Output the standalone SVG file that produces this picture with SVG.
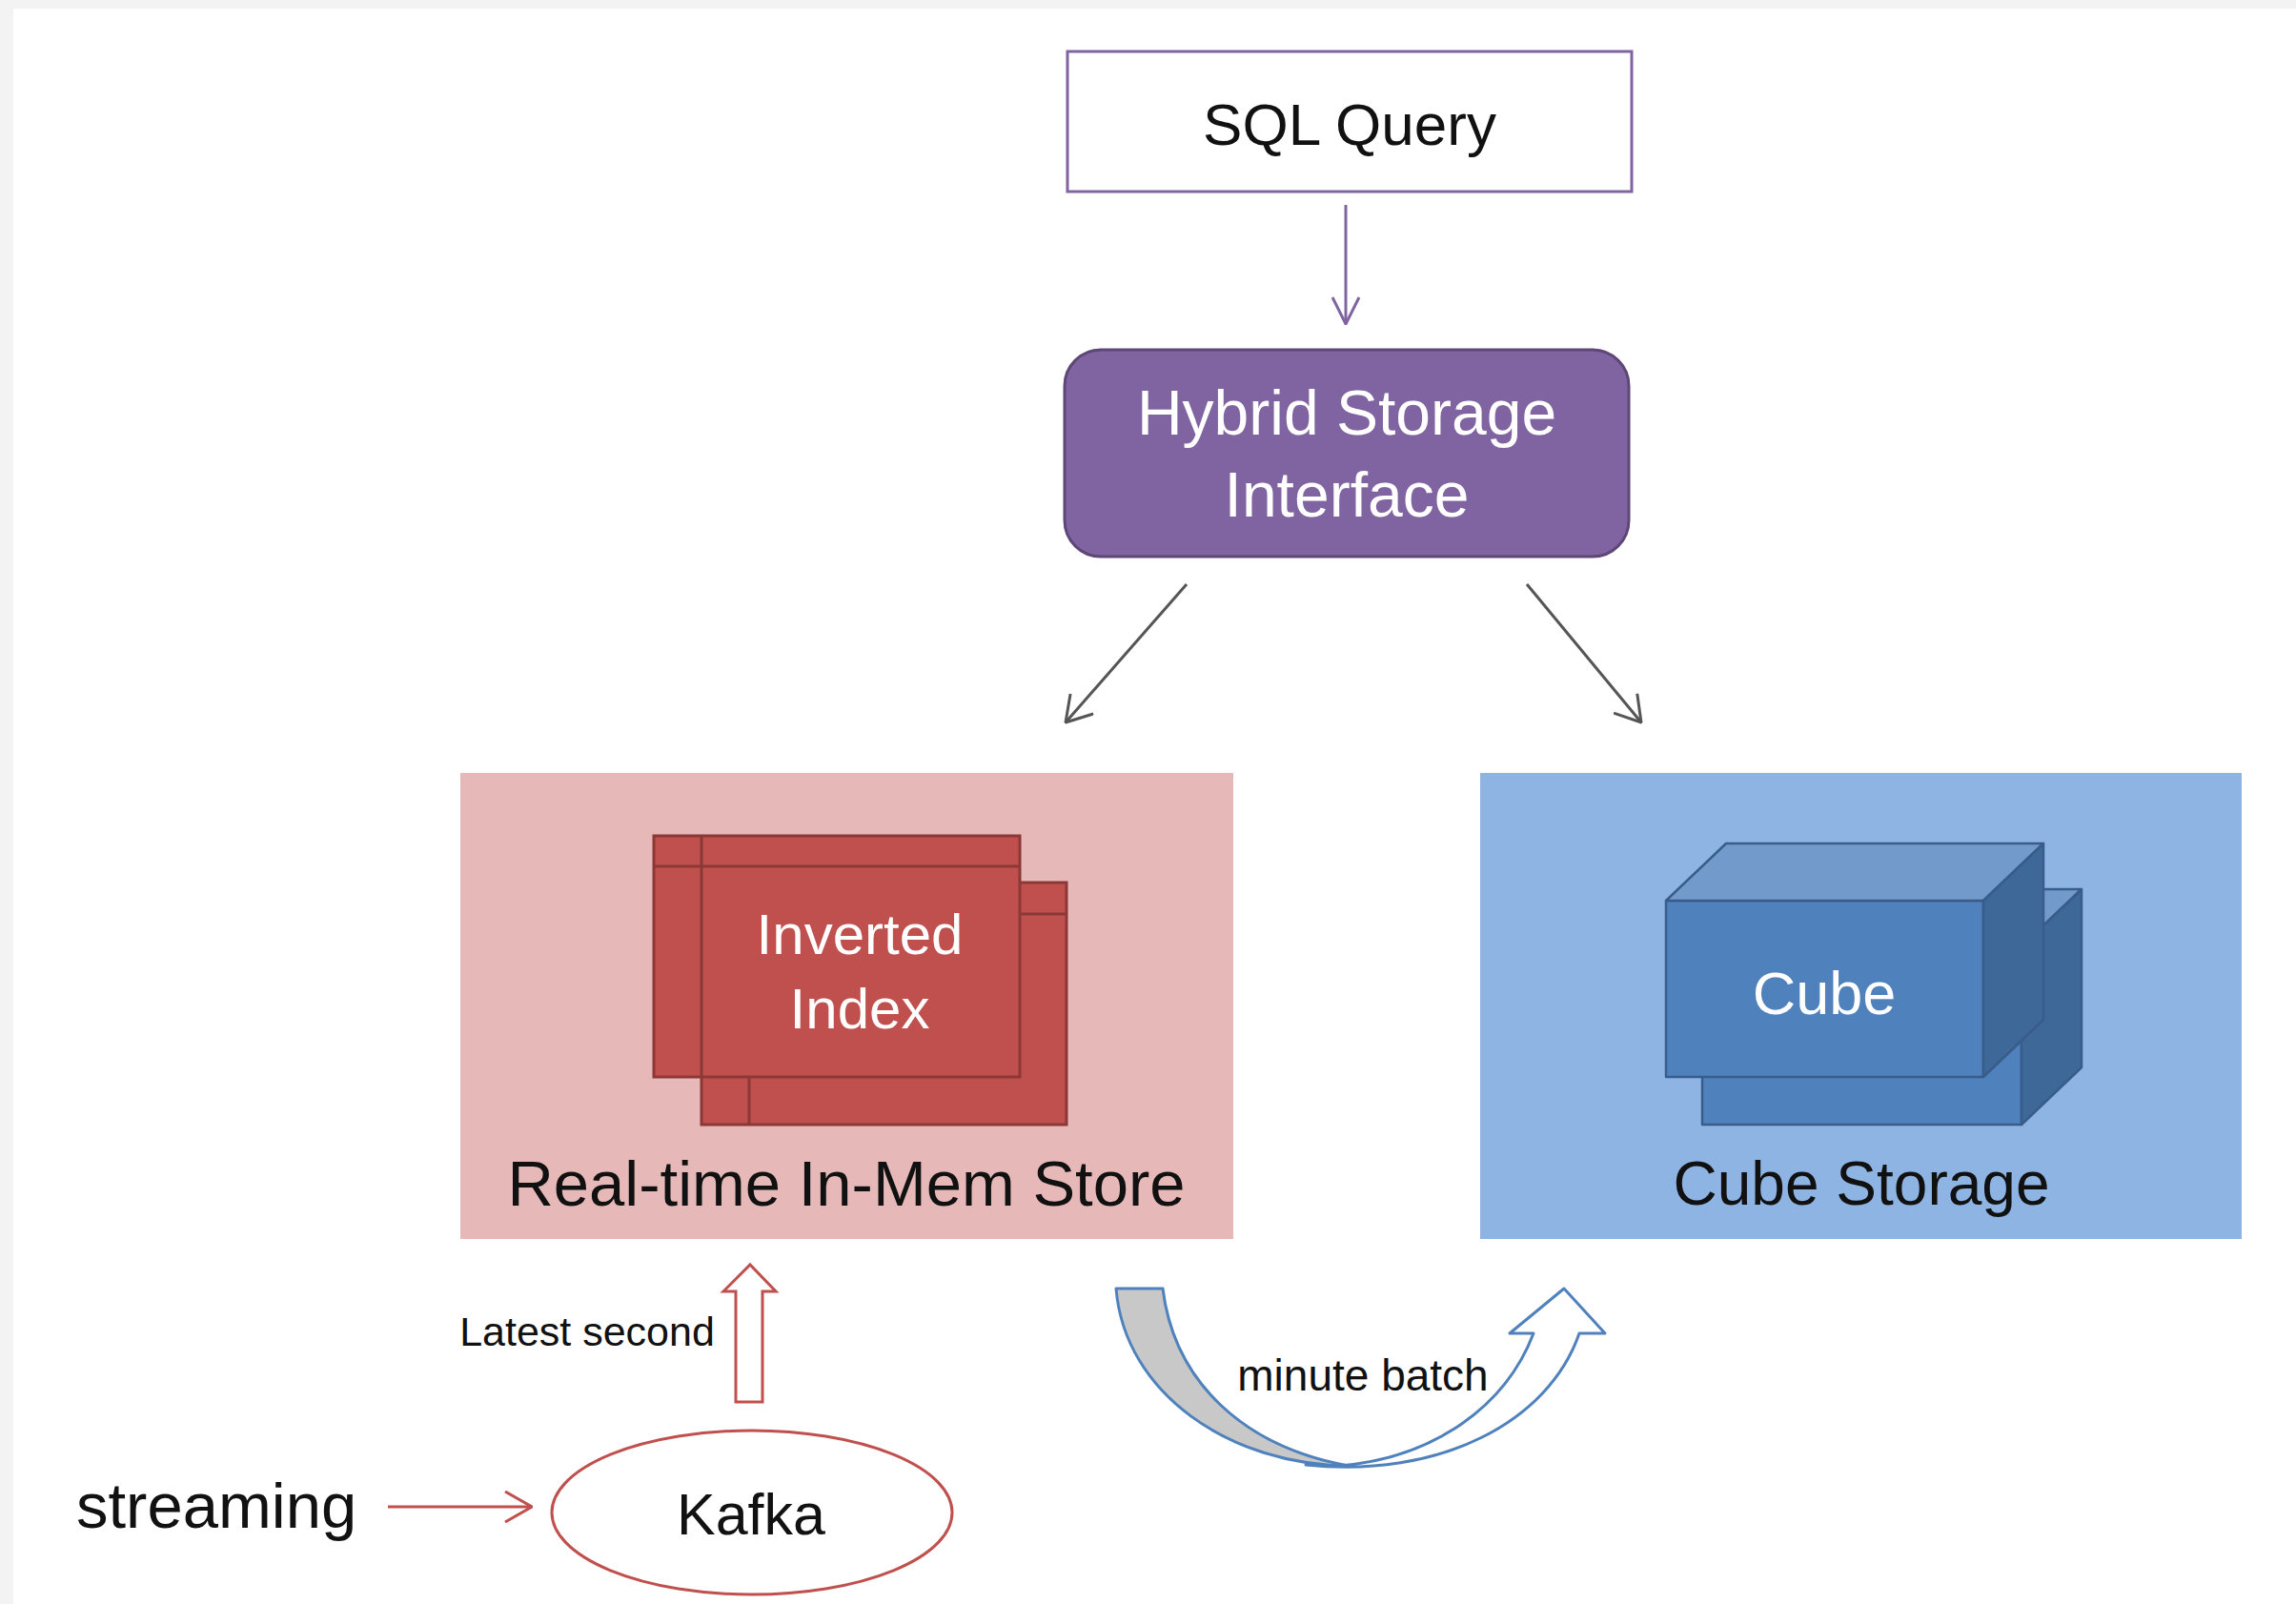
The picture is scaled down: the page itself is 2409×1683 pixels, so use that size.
<svg xmlns="http://www.w3.org/2000/svg" width="2409" height="1683" viewBox="0 0 2409 1683">
<style>
text{font-family:"Liberation Sans",Arial,sans-serif;text-anchor:middle}
.dark{fill:#111}
.white{fill:#fff}
.card{fill:#c0504d;stroke:#8c3836;stroke-width:3}
.cardline{stroke:#8c3836;stroke-width:3}
.cube{stroke:#385d8a;stroke-width:2.5;stroke-linejoin:round}
.front{fill:#4f81bd}
.top{fill:#729aca}
.side{fill:#3e6898}
</style>
<defs>
<marker id="mPurple" viewBox="0 0 30 30" refX="29" refY="15" markerWidth="30" markerHeight="30" markerUnits="userSpaceOnUse" orient="auto">
<path d="M1,1 L29,15 L1,29" fill="none" stroke="#8064a2" stroke-width="3"/>
</marker>
<marker id="mGray" viewBox="0 0 28 34" refX="27" refY="17" markerWidth="28" markerHeight="34" markerUnits="userSpaceOnUse" orient="auto">
<path d="M1,1 L27,17 L1,33" fill="none" stroke="#555" stroke-width="3"/>
</marker>
<marker id="mRed" viewBox="0 0 30 34" refX="29" refY="17" markerWidth="30" markerHeight="34" markerUnits="userSpaceOnUse" orient="auto">
<path d="M1,1 L29,17 L1,33" fill="none" stroke="#c0504d" stroke-width="3"/>
</marker>
</defs>
<rect x="0" y="0" width="2409" height="1683" fill="#f3f3f3"/>
<rect x="14" y="9" width="2395" height="1674" fill="#ffffff"/>

<g id="sql-query">
<rect x="1120" y="54" width="592" height="147" fill="#fff" stroke="#8064a2" stroke-width="3"/>
<text x="1416" y="152" font-size="62" class="dark">SQL Query</text>
</g>

<g id="hybrid-storage">
<rect x="1117" y="367" width="592" height="217" rx="38" ry="38" fill="#8064a2" stroke="#5c4776" stroke-width="3"/>
<text x="1413" y="456" font-size="66" class="white">Hybrid Storage</text>
<text x="1413" y="542" font-size="66" class="white">Interface</text>
</g>

<g id="realtime-store">
<rect x="483" y="811" width="811" height="489" fill="#e6b9b8"/>
<rect x="736" y="926" width="383" height="254" class="card"/>
<line x1="736" y1="959" x2="1119" y2="959" class="cardline"/>
<line x1="786" y1="926" x2="786" y2="1180" class="cardline"/>
<rect x="686" y="877" width="384" height="253" class="card"/>
<line x1="686" y1="909" x2="1070" y2="909" class="cardline"/>
<line x1="736" y1="877" x2="736" y2="1130" class="cardline"/>
<text x="902" y="1001" font-size="60" class="white">Inverted</text>
<text x="902" y="1079" font-size="60" class="white">Index</text>
<text x="888" y="1265" font-size="67" class="dark">Real-time In-Mem Store</text>
</g>

<g id="cube-storage">
<rect x="1553" y="811" width="799" height="489" fill="#8eb4e3"/>
<g class="cube">
<rect x="1786" y="993" width="335" height="187" class="front"/>
<polygon points="1786,993 1849,933 2184,933 2121,993" class="top"/>
<polygon points="2121,993 2184,933 2184,1120 2121,1180" class="side"/>
<rect x="1748" y="945" width="333" height="185" class="front"/>
<polygon points="1748,945 1811,885 2144,885 2081,945" class="top"/>
<polygon points="2081,945 2144,885 2144,1070 2081,1130" class="side"/>
</g>
<text x="1914" y="1064" font-size="63" class="white">Cube</text>
<text x="1953" y="1264" font-size="64" class="dark">Cube Storage</text>
</g>

<g id="kafka">
<ellipse cx="789" cy="1587" rx="210" ry="86" fill="#fff" stroke="#c0504d" stroke-width="3"/>
<text x="788" y="1610" font-size="61" class="dark">Kafka</text>
</g>

<g id="streaming">
<text x="80" y="1603" font-size="67" class="dark" style="text-anchor:start">streaming</text>
</g>

<g id="connectors">
<line x1="1412" y1="215" x2="1412" y2="340" stroke="#8064a2" stroke-width="3" marker-end="url(#mPurple)"/>
<line x1="1245" y1="613" x2="1118" y2="758" stroke="#555" stroke-width="3" marker-end="url(#mGray)"/>
<line x1="1602" y1="613" x2="1722" y2="758" stroke="#555" stroke-width="3" marker-end="url(#mGray)"/>
<line x1="407" y1="1581" x2="558" y2="1581" stroke="#c0504d" stroke-width="3" marker-end="url(#mRed)"/>
<polygon points="772,1471 800,1471 800,1355 814,1355 787,1327 759,1355 772,1355" fill="#fff" stroke="#c0504d" stroke-width="3"/>
<text x="616" y="1412" font-size="43" class="dark">Latest second</text>
<path d="M1171,1352 L1220,1352 C1232,1450 1305,1518 1415,1538 C1290,1537 1180,1462 1171,1352 Z" fill="#c8c8c8" stroke="#4f81bd" stroke-width="3" stroke-linejoin="round"/>
<path d="M1370,1537 C1510,1552 1625,1492 1657,1399 L1684,1399 L1641,1352 L1584,1399 L1609,1399 C1580,1475 1505,1530 1405,1538 Z" fill="#fff" stroke="#4f81bd" stroke-width="3" stroke-linejoin="round"/>
<text x="1430" y="1459" font-size="46" class="dark">minute batch</text>
</g>
</svg>
